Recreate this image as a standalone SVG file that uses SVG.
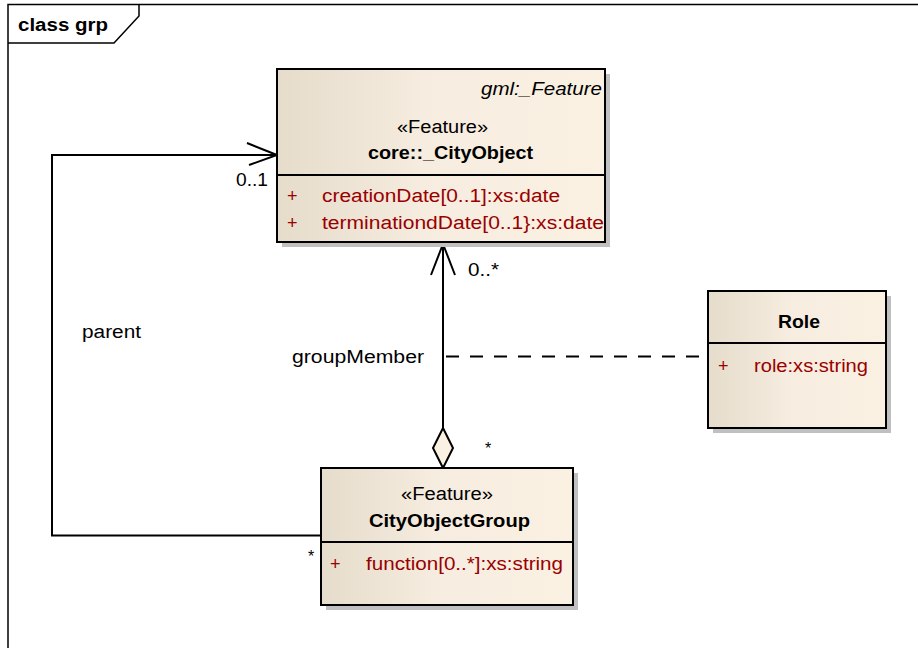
<svg xmlns="http://www.w3.org/2000/svg" width="918" height="648" viewBox="0 0 918 648">
<defs>
<linearGradient id="bg" x1="0" y1="0" x2="1" y2="0">
<stop offset="0" stop-color="#E6DCCB"/>
<stop offset="0.45" stop-color="#F6ECDF"/>
<stop offset="1" stop-color="#FBF1E3"/>
</linearGradient>
<style>
text{font-family:"Liberation Sans",Arial,sans-serif;font-size:18px;fill:#000}
.b{font-weight:bold}
.i{font-style:italic}
.at{fill:#990000}
.box{fill:url(#bg);stroke:#000;stroke-width:2}
.sh{fill:#C0C0C0}
.ln{stroke:#000;stroke-width:2;fill:none}
.dash{stroke:#000;stroke-width:2;fill:none;stroke-dasharray:13 11}
</style>
</defs>
<rect width="918" height="648" fill="#fff"/>
<g id="frame">
<path d="M8 648 V4.5 H918" fill="none" stroke="#000" stroke-width="1.5"/>
<path d="M8 43 H114 L139 16 V4.5" fill="none" stroke="#000" stroke-width="1.5"/>
<text x="18" y="31" class="b" textLength="90" lengthAdjust="spacingAndGlyphs">class grp</text>
</g>
<g id="connectors">
<path d="M321 535.5 H52 V155 H277" class="ln"/>
<path d="M247 143 L277 155 L249 165" class="ln"/>
<path d="M443 428 V244" class="ln"/>
<path d="M431 275 L443 244 L455 275" class="ln"/>
<path d="M443 428 L453 448 L443 468 L433 448 Z" fill="#FBF1E3" stroke="#000" stroke-width="2"/>
<path d="M446 356.5 H708" class="dash"/>
<text x="236" y="186" textLength="32" lengthAdjust="spacingAndGlyphs">0..1</text>
<text x="82" y="338" textLength="59" lengthAdjust="spacingAndGlyphs">parent</text>
<text x="292" y="363" textLength="132" lengthAdjust="spacingAndGlyphs">groupMember</text>
<text x="468" y="276" textLength="31" lengthAdjust="spacingAndGlyphs">0..*</text>
<text x="485" y="454" style="font-size:16px">*</text>
<text x="308" y="562" style="font-size:16px">*</text>
</g>
<g id="cityobject">
<rect x="282" y="74" width="328" height="173" class="sh"/>
<rect x="277" y="69" width="328" height="173" class="box"/>
<line x1="277" y1="175" x2="605" y2="175" class="ln"/>
<text x="602" y="95" class="i" text-anchor="end" textLength="121" lengthAdjust="spacingAndGlyphs">gml:_Feature</text>
<text x="397" y="133" textLength="91" lengthAdjust="spacingAndGlyphs">«Feature»</text>
<text x="368" y="159" class="b" textLength="165" lengthAdjust="spacingAndGlyphs">core::_CityObject</text>
<text x="287" y="202" class="at">+</text>
<text x="322" y="202" class="at" textLength="238" lengthAdjust="spacingAndGlyphs">creationDate[0..1]:xs:date</text>
<text x="287" y="229" class="at">+</text>
<text x="322" y="229" class="at" textLength="282" lengthAdjust="spacingAndGlyphs">terminationdDate[0..1}:xs:date</text>
</g>
<g id="role">
<rect x="713" y="296" width="178" height="137" class="sh"/>
<rect x="708" y="291" width="178" height="137" class="box"/>
<line x1="708" y1="343" x2="886" y2="343" class="ln"/>
<text x="778" y="328" class="b" textLength="42" lengthAdjust="spacingAndGlyphs">Role</text>
<text x="718" y="372" class="at">+</text>
<text x="754" y="372" class="at" textLength="114" lengthAdjust="spacingAndGlyphs">role:xs:string</text>
</g>
<g id="cityobjectgroup">
<rect x="326" y="473" width="252" height="137" class="sh"/>
<rect x="321" y="468" width="252" height="137" class="box"/>
<line x1="321" y1="542" x2="573" y2="542" class="ln"/>
<text x="401" y="500" textLength="92" lengthAdjust="spacingAndGlyphs">«Feature»</text>
<text x="369" y="527" class="b" textLength="161" lengthAdjust="spacingAndGlyphs">CityObjectGroup</text>
<text x="330" y="570" class="at">+</text>
<text x="366" y="570" class="at" textLength="197" lengthAdjust="spacingAndGlyphs">function[0..*]:xs:string</text>
</g>
</svg>
